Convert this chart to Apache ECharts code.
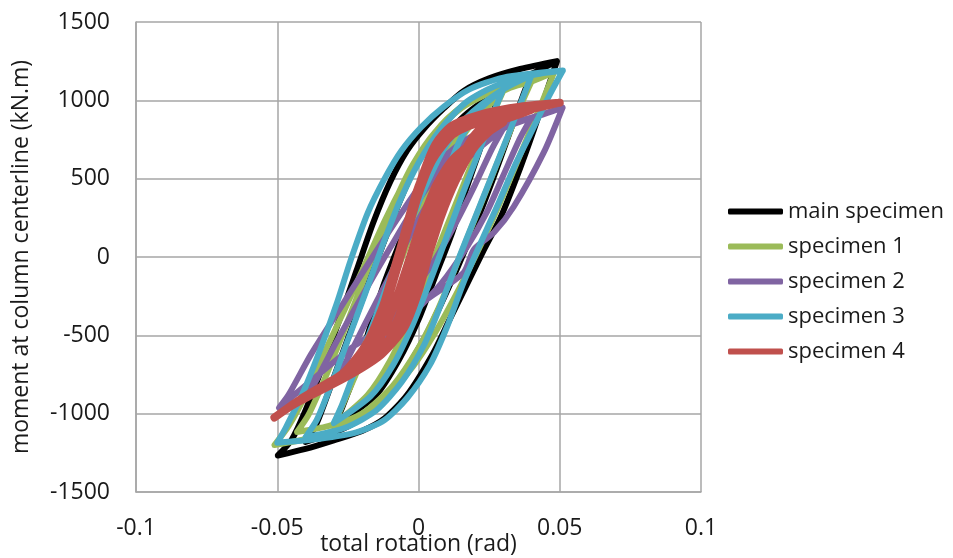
<!DOCTYPE html>
<html>
<head>
<meta charset="utf-8">
<script src="https://cdn.jsdelivr.net/npm/echarts@6/dist/echarts.min.js"></script>
<style>
html,body{margin:0;padding:0;background:#fff;}
#chart{width:953px;height:558px;}
</style>
</head>
<body>
<div id="chart"></div>
<script>
// total rotation (rad), moment (kN.m) pairs
const seriesNames = ['main specimen', 'specimen 1', 'specimen 2', 'specimen 3', 'specimen 4'];
const xTicks = [-0.1, -0.05, 0, 0.05, 0.1];
const yTicks = [-1500, -1000, -500, 0, 500, 1000, 1500];

const mainSpecimen = [
  [0,0],[0.006,350],[0.012,680],[0.020,920],[0.030,1080],
  [0.027,950],[0.022,700],[0.017,440],[0.012,160],[0.006,-120],[0.000,-400],[-0.007,-660],[-0.015,-880],[-0.030,-1080],
  [-0.027,-960],[-0.022,-720],[-0.017,-440],[-0.012,-160],[-0.006,120],[0.000,400],[0.007,660],[0.015,880],[0.030,1080],
  [0.040,1170],
  [0.037,1030],[0.032,780],[0.026,480],[0.020,200],[0.014,-60],[0.008,-300],[0.002,-520],[-0.006,-760],[-0.015,-960],[-0.026,-1090],[-0.040,-1180],
  [-0.036,-1060],[-0.031,-820],[-0.025,-520],[-0.019,-230],[-0.013,60],[-0.007,340],[-0.001,580],[0.006,780],[0.014,940],[0.024,1060],[0.040,1170],
  [0.049,1250],
  [0.046,1090],[0.041,820],[0.035,520],[0.029,250],[0.023,40],[0.017,-180],[0.011,-400],[0.005,-620],[-0.004,-880],[-0.012,-1030],[-0.020,-1110],[-0.030,-1170],[-0.040,-1225],[-0.0498,-1267],
  [-0.045,-1170],[-0.040,-980],[-0.034,-700],[-0.028,-400],[-0.022,-90],[-0.016,220],[-0.010,480],[-0.004,680],[0.002,820],[0.009,950],[0.016,1060],[0.025,1140],[0.036,1200],[0.049,1250]
];

const specimen1 = [
  [0,0],[0.008,420],[0.016,780],[0.030,1060],
  [0.027,940],[0.021,690],[0.015,420],[0.009,150],[0.003,-120],[-0.003,-390],[-0.010,-660],[-0.018,-880],[-0.030,-1070],
  [-0.027,-950],[-0.021,-700],[-0.015,-430],[-0.009,-150],[-0.003,130],[0.003,400],[0.010,660],[0.018,880],[0.030,1060],
  [0.040,1120],
  [0.037,1000],[0.031,740],[0.025,470],[0.019,200],[0.013,-70],[0.007,-330],[0.000,-580],[-0.009,-820],[-0.020,-1000],[-0.032,-1080],[-0.043,-1117],
  [-0.039,-1010],[-0.033,-770],[-0.027,-500],[-0.021,-220],[-0.015,60],[-0.009,330],[-0.002,590],[0.006,800],[0.016,960],[0.027,1060],[0.040,1120],
  [0.048,1180],
  [0.044,1000],[0.038,740],[0.032,480],[0.026,230],[0.020,0],[0.013,-250],[0.006,-480],[-0.002,-700],[-0.012,-900],[-0.024,-1060],[-0.037,-1150],[-0.051,-1200],
  [-0.046,-1080],[-0.040,-880],[-0.033,-600],[-0.026,-330],[-0.019,-50],[-0.012,230],[-0.005,480],[0.002,700],[0.010,880],[0.020,1020],[0.032,1110],[0.048,1180]
];

const specimen2 = [
  [0,0],[0.008,330],[0.016,600],[0.030,820],
  [0.026,690],[0.020,460],[0.013,210],[0.005,-40],[-0.004,-260],[-0.014,-490],[-0.030,-800],
  [-0.026,-680],[-0.019,-430],[-0.011,-150],[-0.003,140],[0.006,420],[0.015,640],[0.030,820],
  [0.040,890],
  [0.036,760],[0.030,520],[0.024,280],[0.017,60],[0.008,-170],[-0.003,-380],[-0.015,-580],[-0.027,-750],[-0.040,-900],
  [-0.036,-780],[-0.029,-540],[-0.020,-250],[-0.010,60],[0.000,360],[0.009,590],[0.018,740],[0.028,840],[0.040,890],
  [0.051,954],
  [0.0443,666],[0.0337,321],[0.0267,156],[0.0196,48],[0.016,-99],[0.0044,-252],[-0.010,-420],[-0.0231,-572],[-0.036,-760],[-0.0494,-963],
  [-0.046,-880],[-0.038,-620],[-0.028,-335],[-0.017,-20],[-0.006,283],[0.004,540],[0.013,700],[0.022,800],[0.030,850],[0.040,885],[0.051,954]
];

const specimen3 = [
  [0,0],[0.007,380],[0.014,720],[0.021,930],[0.030,1070],
  [0.027,940],[0.022,700],[0.016,420],[0.010,130],[0.004,-160],[-0.002,-430],[-0.009,-690],[-0.017,-890],[-0.030,-1060],
  [-0.027,-940],[-0.022,-700],[-0.016,-420],[-0.010,-130],[-0.004,160],[0.002,430],[0.009,690],[0.017,890],[0.030,1070],
  [0.040,1160],
  [0.037,1020],[0.032,790],[0.026,520],[0.020,250],[0.014,-20],[0.008,-300],[0.002,-560],[-0.006,-800],[-0.015,-980],[-0.026,-1090],[-0.040,-1150],
  [-0.036,-1040],[-0.031,-820],[-0.025,-530],[-0.019,-240],[-0.013,60],[-0.007,340],[0.000,600],[0.008,820],[0.017,990],[0.027,1090],[0.040,1160],
  [0.0511,1190],
  [0.046,1020],[0.040,800],[0.034,580],[0.028,330],[0.022,90],[0.016,-160],[0.010,-450],[0.004,-690],[-0.004,-900],[-0.012,-1040],[-0.022,-1120],[-0.035,-1160],[-0.050,-1185],
  [-0.047,-1090],[-0.041,-870],[-0.035,-600],[-0.029,-300],[-0.024,-20],[-0.018,280],[-0.012,500],[-0.006,680],[0.001,830],[0.009,960],[0.018,1070],[0.030,1145],[0.0511,1190]
];

const specimen4 = [
  [0,0],[0.005,300],[0.010,520],
  [0.007,370],[0.003,120],[-0.001,-130],[-0.005,-330],[-0.010,-500],
  [-0.007,-380],[-0.003,-130],[0.001,120],[0.005,330],[0.010,520],
  [0.015,650],[0.020,740],
  [0.017,640],[0.012,450],[0.007,230],[0.003,20],[-0.001,-190],[-0.006,-400],[-0.012,-560],[-0.020,-680],
  [-0.016,-600],[-0.011,-420],[-0.007,-220],[-0.003,0],[0.001,220],[0.006,450],[0.012,620],[0.020,740],
  [0.030,860],
  [0.025,800],[0.019,680],[0.013,480],[0.008,260],[0.004,40],[-0.001,-200],[-0.006,-420],[-0.013,-600],[-0.022,-720],[-0.030,-800],
  [-0.025,-720],[-0.018,-560],[-0.012,-330],[-0.008,-100],[-0.004,150],[0.000,400],[0.005,620],[0.012,780],[0.020,850],[0.030,880],
  [0.040,940],
  [0.034,900],[0.026,850],[0.019,720],[0.013,520],[0.008,280],[0.004,40],[0.000,-220],[-0.005,-450],[-0.013,-620],[-0.024,-750],[-0.040,-900],
  [-0.034,-830],[-0.026,-730],[-0.019,-570],[-0.014,-380],[-0.009,-120],[-0.005,150],[0.000,450],[0.006,680],[0.013,820],[0.024,910],[0.040,950],
  [0.050,985],
  [0.044,960],[0.036,930],[0.026,880],[0.019,760],[0.0114,500],[0.006,200],[0.0025,0],[-0.002,-280],[-0.007,-480],[-0.013,-600],[-0.021,-690],[-0.030,-782],[-0.042,-910],[-0.051,-1025],
  [-0.045,-950],[-0.039,-890],[-0.027,-760],[-0.019,-600],[-0.014,-400],[-0.009,-100],[-0.004,200],[0.001,500],[0.006,720],[0.012,840],[0.024,920],[0.036,960],[0.050,985]
];

const seriesData = [mainSpecimen, specimen1, specimen2, specimen3, specimen4];
const colors = ['#000000', '#9BBB59', '#8064A2', '#4BACC6', '#C0504D'];
const widths = [6, 6, 6, 6, 8];

const FONT = 'Open Sans';
const TXT = '#1a1a1a';
const chart = echarts.init(document.getElementById('chart'));
chart.setOption({
  animation: false,
  backgroundColor: '#ffffff',
  grid: { left: 136, right: 252, top: 22, bottom: 66, containLabel: false, outerBoundsMode: 'none' },
  xAxis: {
    type: 'value',
    min: xTicks[0], max: xTicks[xTicks.length - 1], interval: 0.05,
    name: 'total rotation (rad)', nameLocation: 'middle', nameGap: 41, nameMoveOverlap: false,
    nameTextStyle: { fontFamily: FONT, fontSize: 23, color: TXT },
    axisLine: { show: true, onZero: false, lineStyle: { color: '#A6A6A6', width: 1.5 } },
    axisTick: { show: false },
    axisLabel: { fontFamily: FONT, fontSize: 23, color: TXT, margin: 25,
      formatter: v => String(Math.round(v * 1000) / 1000) },
    splitLine: { show: true, lineStyle: { color: '#A6A6A6', width: 1.5 } }
  },
  yAxis: {
    type: 'value',
    min: yTicks[0], max: yTicks[yTicks.length - 1], interval: 500,
    name: 'moment at column centerline (kN.m)', nameLocation: 'middle', nameGap: 103, nameMoveOverlap: false,
    nameTextStyle: { fontFamily: FONT, fontSize: 23, color: TXT },
    axisLine: { show: true, onZero: false, lineStyle: { color: '#A6A6A6', width: 1.5 } },
    axisTick: { show: false },
    axisLabel: { fontFamily: FONT, fontSize: 23, color: TXT, margin: 26,
      formatter: v => String(v) },
    splitLine: { show: true, lineStyle: { color: '#A6A6A6', width: 1.5 } }
  },
  legend: {
    orient: 'vertical', left: 728, top: 200, padding: 0,
    itemWidth: 55, itemHeight: 6, itemGap: 12,
    icon: 'roundRect',
    textStyle: { fontFamily: FONT, fontSize: 22, color: TXT, lineHeight: 23 },
    data: seriesNames
  },
  series: seriesNames.map((n, i) => ({
    name: n, type: 'line', data: seriesData[i],
    symbol: 'none', smooth: 0.25,
    color: colors[i],
    itemStyle: { color: colors[i] },
    lineStyle: { color: colors[i], width: widths[i], cap: 'round', join: 'round' }
  }))
});
</script>
</body>
</html>
